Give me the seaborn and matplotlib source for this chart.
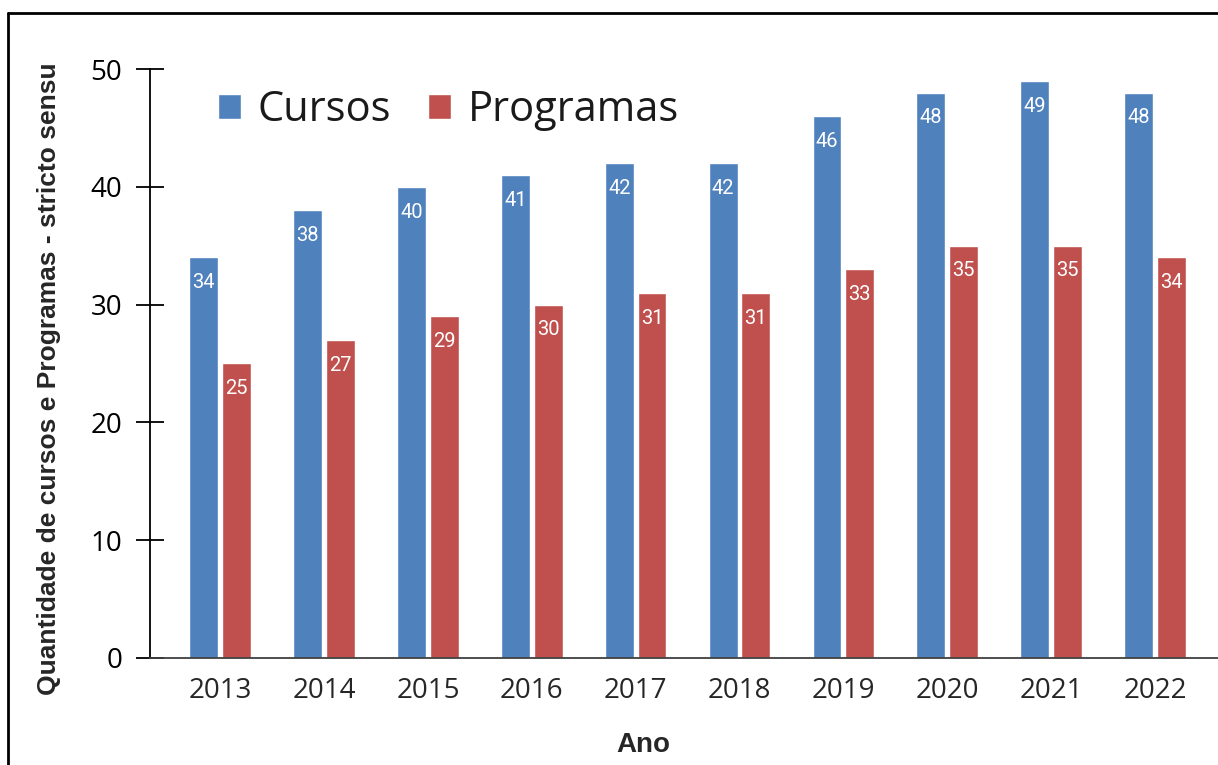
import matplotlib
matplotlib.use("Agg")
import matplotlib.pyplot as plt
import seaborn as sns
import pandas as pd
from matplotlib.lines import Line2D

anos = ["2013", "2014", "2015", "2016", "2017", "2018", "2019", "2020", "2021", "2022"]
cursos = [34, 38, 40, 41, 42, 42, 46, 48, 49, 48]
programas = [25, 27, 29, 30, 31, 31, 33, 35, 35, 34]
series = ["Cursos", "Programas"]
cores = ["#4F81BD", "#C0504D"]

df = pd.DataFrame({
    "Ano": anos * 2,
    "Valor": cursos + programas,
    "Serie": [series[0]] * len(anos) + [series[1]] * len(anos),
})

sns.set_style("white")
plt.rcParams["font.family"] = ["Open Sans", "DejaVu Sans"]

fig = plt.figure(figsize=(12.18, 7.65), dpi=100)
ax = fig.add_axes([0.1232, 0.1399, 0.8826, 0.7699])

sns.barplot(data=df, x="Ano", y="Valor", hue="Serie", palette=cores,
            width=0.63, gap=0.12, ax=ax, saturation=1)

for cont in ax.containers:
    ax.bar_label(cont, padding=-25, color="white", fontsize=14.5,
                 family="Roboto")

ax.set_xlim(-0.675, 9.675)
ax.set_ylim(0, 50)
ax.set_yticks([0, 10, 20, 30, 40, 50])
ax.tick_params(axis="y", left=True, direction="inout", length=20, width=1.3,
               labelsize=20, pad=10, colors="black")
ax.yaxis.set_tick_params(which="major", direction="inout")
ax.tick_params(axis="x", length=0, labelsize=20, pad=14)
for s in ("top", "right"):
    ax.spines[s].set_visible(False)
ax.spines["left"].set_color("black")
ax.spines["left"].set_linewidth(1.3)
ax.spines["bottom"].set_color("#404040")
ax.spines["bottom"].set_linewidth(1.3)

ax.set_xlabel("Ano", fontsize=20, fontweight="bold", family="Liberation Sans")
ax.xaxis.set_label_coords(0.459, -0.125)
ax.set_ylabel("Quantidade de cursos e Programas - stricto sensu", fontsize=19,
              fontweight="bold", family="Liberation Sans")
ax.yaxis.set_label_coords(-0.0825, 0.474)

ax.legend(loc="upper left", bbox_to_anchor=(0.028, 1.03), ncol=2, frameon=False,
          fontsize=30, handlelength=0.55, handleheight=0.55, handletextpad=0.4,
          columnspacing=0.9, labelcolor="#1a1a1a")

# moldura cortada (apenas topo e esquerda)
fig.add_artist(Line2D([8 / 1218, 1.0], [1 - 13 / 765, 1 - 13 / 765],
                      transform=fig.transFigure, color="black", lw=2))
fig.add_artist(Line2D([8 / 1218, 8 / 1218], [0.0, 1 - 13 / 765],
                      transform=fig.transFigure, color="black", lw=2))

fig.savefig("out.png", dpi=100)
